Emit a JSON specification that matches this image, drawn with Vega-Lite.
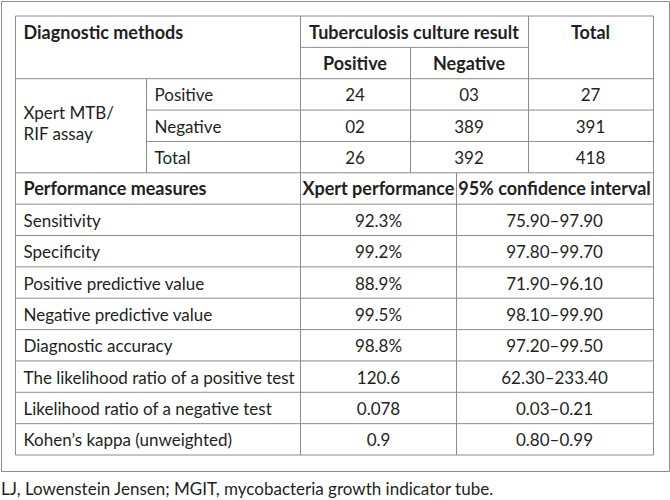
{
  "$schema": "https://vega.github.io/schema/vega-lite/v6.json",
  "width": 668,
  "height": 470,
  "autosize": {"type": "none"},
  "padding": {"left": 1, "top": 1, "right": 1, "bottom": 29},
  "background": "white",
  "config": {
    "view": {"stroke": "#8c8c8c", "strokeWidth": 1},
    "text": {"font": "Lato", "fontSize": 17, "color": "#231f20"}
  },
  "title": {
    "text": "LJ, Lowenstein Jensen; MGIT, mycobacteria growth indicator tube.",
    "orient": "bottom",
    "anchor": "start",
    "frame": "group",
    "font": "Lato",
    "fontSize": 17,
    "fontWeight": "normal",
    "color": "#231f20",
    "baseline": "top",
    "offset": 11
  },
  "datasets": {
    "lines": [
      {"x": 0, "x2": 12, "y": 0, "y2": 0},
      {"x": 2, "x2": 9, "y": 1, "y2": 1},
      {"x": 0, "x2": 12, "y": 2, "y2": 2},
      {"x": 1, "x2": 12, "y": 3, "y2": 3},
      {"x": 1, "x2": 12, "y": 4, "y2": 4},
      {"x": 0, "x2": 12, "y": 5, "y2": 5},
      {"x": 0, "x2": 12, "y": 6, "y2": 6},
      {"x": 0, "x2": 12, "y": 7, "y2": 7},
      {"x": 0, "x2": 12, "y": 8, "y2": 8},
      {"x": 0, "x2": 12, "y": 9, "y2": 9},
      {"x": 0, "x2": 12, "y": 10, "y2": 10},
      {"x": 0, "x2": 12, "y": 11, "y2": 11},
      {"x": 0, "x2": 12, "y": 12, "y2": 12},
      {"x": 0, "x2": 12, "y": 13, "y2": 13},
      {"x": 0, "x2": 12, "y": 14, "y2": 14},
      {"x": 0, "x2": 0, "y": 0, "y2": 14},
      {"x": 12, "x2": 12, "y": 0, "y2": 14},
      {"x": 2, "x2": 2, "y": 0, "y2": 14},
      {"x": 1, "x2": 1, "y": 2, "y2": 5},
      {"x": 5, "x2": 5, "y": 1, "y2": 5},
      {"x": 9, "x2": 9, "y": 0, "y2": 5},
      {"x": 7, "x2": 7, "y": 5, "y2": 14}
    ],
    "cells": [
      {"role": "headLabel", "t": "Diagnostic methods", "c": 0, "r": 0.5},
      {"role": "head", "t": "Tuberculosis culture result", "c": 6, "r": 0.5},
      {"role": "head", "t": "Total", "c": 11, "r": 0.5},
      {"role": "head", "t": "Positive", "c": 3, "r": 1.5},
      {"role": "head", "t": "Negative", "c": 8, "r": 1.5},
      {"role": "group", "t": ["Xpert MTB/", "RIF assay"], "c": 0, "r": 3.5},
      {"role": "label", "t": "Positive", "c": 1, "r": 2.5},
      {"role": "label", "t": "Negative", "c": 1, "r": 3.5},
      {"role": "label", "t": "Total", "c": 1, "r": 4.5},
      {"role": "value", "t": "24", "c": 3, "r": 2.5},
      {"role": "value", "t": "03", "c": 8, "r": 2.5},
      {"role": "value", "t": "27", "c": 11, "r": 2.5},
      {"role": "value", "t": "02", "c": 3, "r": 3.5},
      {"role": "value", "t": "389", "c": 8, "r": 3.5},
      {"role": "value", "t": "391", "c": 11, "r": 3.5},
      {"role": "value", "t": "26", "c": 3, "r": 4.5},
      {"role": "value", "t": "392", "c": 8, "r": 4.5},
      {"role": "value", "t": "418", "c": 11, "r": 4.5},
      {"role": "headLabel", "t": "Performance measures", "c": 0, "r": 5.5},
      {"role": "head", "t": "Xpert performance", "c": 4, "r": 5.5},
      {"role": "head", "t": "95% confidence interval", "c": 10, "r": 5.5},
      {"role": "label", "t": "Sensitivity", "c": 0, "r": 6.5},
      {"role": "value", "t": "92.3%", "c": 4, "r": 6.5},
      {"role": "value", "t": "75.90–97.90", "c": 10, "r": 6.5},
      {"role": "label", "t": "Specificity", "c": 0, "r": 7.5},
      {"role": "value", "t": "99.2%", "c": 4, "r": 7.5},
      {"role": "value", "t": "97.80–99.70", "c": 10, "r": 7.5},
      {"role": "label", "t": "Positive predictive value", "c": 0, "r": 8.5},
      {"role": "value", "t": "88.9%", "c": 4, "r": 8.5},
      {"role": "value", "t": "71.90–96.10", "c": 10, "r": 8.5},
      {"role": "label", "t": "Negative predictive value", "c": 0, "r": 9.5},
      {"role": "value", "t": "99.5%", "c": 4, "r": 9.5},
      {"role": "value", "t": "98.10–99.90", "c": 10, "r": 9.5},
      {"role": "label", "t": "Diagnostic accuracy", "c": 0, "r": 10.5},
      {"role": "value", "t": "98.8%", "c": 4, "r": 10.5},
      {"role": "value", "t": "97.20–99.50", "c": 10, "r": 10.5},
      {"role": "label", "t": "The likelihood ratio of a positive test", "c": 0, "r": 11.5},
      {"role": "value", "t": "120.6", "c": 4, "r": 11.5},
      {"role": "value", "t": "62.30–233.40", "c": 10, "r": 11.5},
      {"role": "label", "t": "Likelihood ratio of a negative test", "c": 0, "r": 12.5},
      {"role": "value", "t": "0.078", "c": 4, "r": 12.5},
      {"role": "value", "t": "0.03–0.21", "c": 10, "r": 12.5},
      {"role": "label", "t": "Kohen’s kappa (unweighted)", "c": 0, "r": 13.5},
      {"role": "value", "t": "0.9", "c": 4, "r": 13.5},
      {"role": "value", "t": "0.80–0.99", "c": 10, "r": 13.5}
    ]
  },
  "encoding": {
    "x": {
      "field": "x",
      "type": "quantitative",
      "axis": null,
      "scale": {
        "domain": [0, 1, 2, 3, 4, 5, 6, 7, 8, 9, 10, 11, 12],
        "range": [14.5, 145.5, 299.5, 354, 377.5, 409.5, 413, 455.5, 468, 527.5, 553.5, 589.5, 652.5],
        "nice": false,
        "zero": false
      }
    },
    "y": {
      "field": "y",
      "type": "quantitative",
      "axis": null,
      "scale": {"domain": [0, 14], "range": [15, 454], "nice": false, "zero": false}
    }
  },
  "layer": [
    {
      "data": {"name": "lines"},
      "mark": {"type": "rule", "color": "#8c8c8c", "strokeWidth": 1},
      "encoding": {
        "x2": {"field": "x2"},
        "y2": {"field": "y2"}
      }
    },
    {
      "data": {"name": "cells"},
      "transform": [{"filter": "datum.role === 'headLabel'"}],
      "mark": {"type": "text", "align": "left", "baseline": "middle", "dx": 8, "dy": 2, "fontWeight": "bold", "fontSize": 18},
      "encoding": {
        "x": {"field": "c", "type": "quantitative"},
        "y": {"field": "r", "type": "quantitative"},
        "text": {"field": "t"}
      }
    },
    {
      "data": {"name": "cells"},
      "transform": [{"filter": "datum.role === 'head'"}],
      "mark": {"type": "text", "align": "center", "baseline": "middle", "dy": 2, "fontWeight": "bold", "fontSize": 18},
      "encoding": {
        "x": {"field": "c", "type": "quantitative"},
        "y": {"field": "r", "type": "quantitative"},
        "text": {"field": "t"}
      }
    },
    {
      "data": {"name": "cells"},
      "transform": [{"filter": "datum.role === 'label'"}],
      "mark": {"type": "text", "align": "left", "baseline": "middle", "dx": 8, "dy": 2},
      "encoding": {
        "x": {"field": "c", "type": "quantitative"},
        "y": {"field": "r", "type": "quantitative"},
        "text": {"field": "t"}
      }
    },
    {
      "data": {"name": "cells"},
      "transform": [{"filter": "datum.role === 'group'"}],
      "mark": {"type": "text", "align": "left", "baseline": "middle", "dx": 8, "dy": -12, "lineHeight": 21.5},
      "encoding": {
        "x": {"field": "c", "type": "quantitative"},
        "y": {"field": "r", "type": "quantitative"},
        "text": {"field": "t"}
      }
    },
    {
      "data": {"name": "cells"},
      "transform": [{"filter": "datum.role === 'value'"}],
      "mark": {"type": "text", "align": "center", "baseline": "middle", "dy": 2},
      "encoding": {
        "x": {"field": "c", "type": "quantitative"},
        "y": {"field": "r", "type": "quantitative"},
        "text": {"field": "t"}
      }
    }
  ]
}
